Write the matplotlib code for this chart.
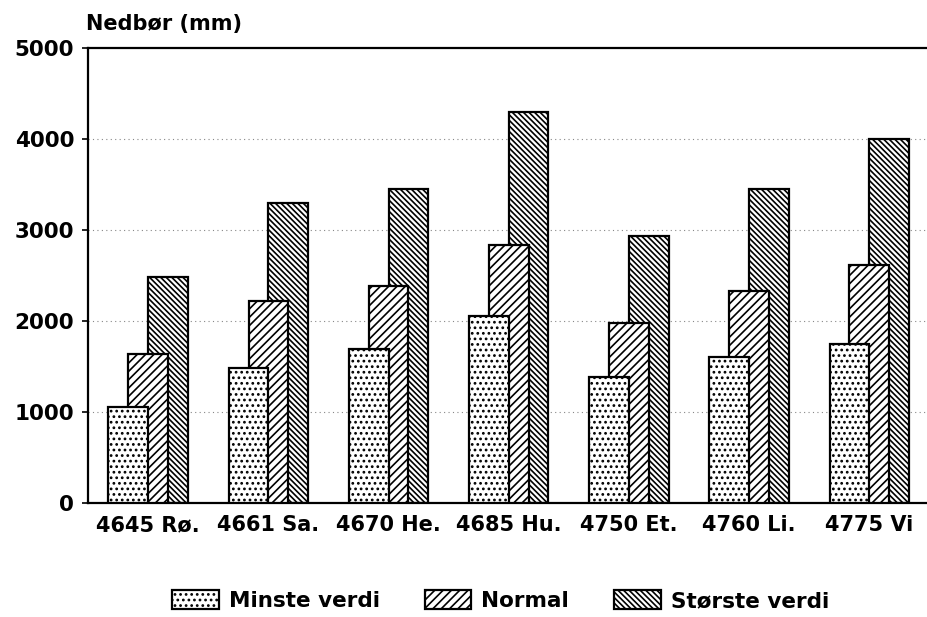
import matplotlib
matplotlib.use("Agg")
import matplotlib.pyplot as plt
import numpy as np

# ---------------------------------------------------------------------------
# Data
# ---------------------------------------------------------------------------

stations = ["4645 Rø.", "4661 Sa.", "4670 He.", "4685 Hu.", "4750 Et.", "4760 Li.", "4775 Vi"]
minste   = [1050, 1480, 1690, 2050, 1380, 1600, 1750]
normal   = [1640, 2220, 2380, 2830, 1980, 2330, 2620]
storste  = [2480, 3300, 3450, 4300, 2930, 3450, 4000]
yticks   = [0, 1000, 2000, 3000, 4000, 5000]

plt.rcParams.update({
    "font.family": ["DejaVu Sans"],
    "font.weight": "bold",
    "hatch.linewidth": 1.2,
    "hatch.color": "black",
})

fig = plt.figure(figsize=(9.27, 6.17), dpi=100)
ax = fig.add_axes([0.095, 0.185, 0.905, 0.737])

x = np.arange(len(stations))
w = 0.33
off = 0.165

# back to front: largest behind, smallest in front
ax.bar(x + off, storste, w, facecolor="white", edgecolor="black", linewidth=1.6,
       hatch="\\\\\\\\\\\\", label="Største verdi", zorder=2)
ax.bar(x, normal, w, facecolor="white", edgecolor="black", linewidth=1.6,
       hatch="////", label="Normal", zorder=3)
ax.bar(x - off, minste, w, facecolor="white", edgecolor="black", linewidth=1.6,
       hatch="...", label="Minste verdi", zorder=4)

for y in yticks[1:-1]:
    ax.axhline(y, color="#888888", linestyle=(0, (1, 3)), linewidth=0.8, zorder=1)

ax.set_xlim(-0.5, 6.48)
ax.set_ylim(0, 5000)
ax.set_yticks(yticks)
ax.set_yticklabels([str(v) for v in yticks], fontsize=15.5, fontweight="bold")
ax.set_xticks(x)
ax.set_xticklabels(stations, fontsize=15, fontweight="bold")
ax.tick_params(axis="x", length=0, pad=9)
ax.tick_params(axis="y", length=4, width=1.2, pad=6)

for s in ("left", "bottom", "top"):
    ax.spines[s].set_linewidth(1.6)
ax.spines["right"].set_visible(False)

fig.text(0.093, 0.945, "Nedbør (mm)", fontsize=15, fontweight="bold", ha="left", va="bottom")

handles, labels = ax.get_legend_handles_labels()
order = [2, 1, 0]
fig.legend([handles[i] for i in order], [labels[i] for i in order],
           loc="center", bbox_to_anchor=(0.54, 0.027), ncol=3, frameon=False,
           fontsize=15.5, handlelength=2.15, handleheight=1.0, columnspacing=2.1,
           handletextpad=0.47)

fig.savefig("out.png", dpi=100)
